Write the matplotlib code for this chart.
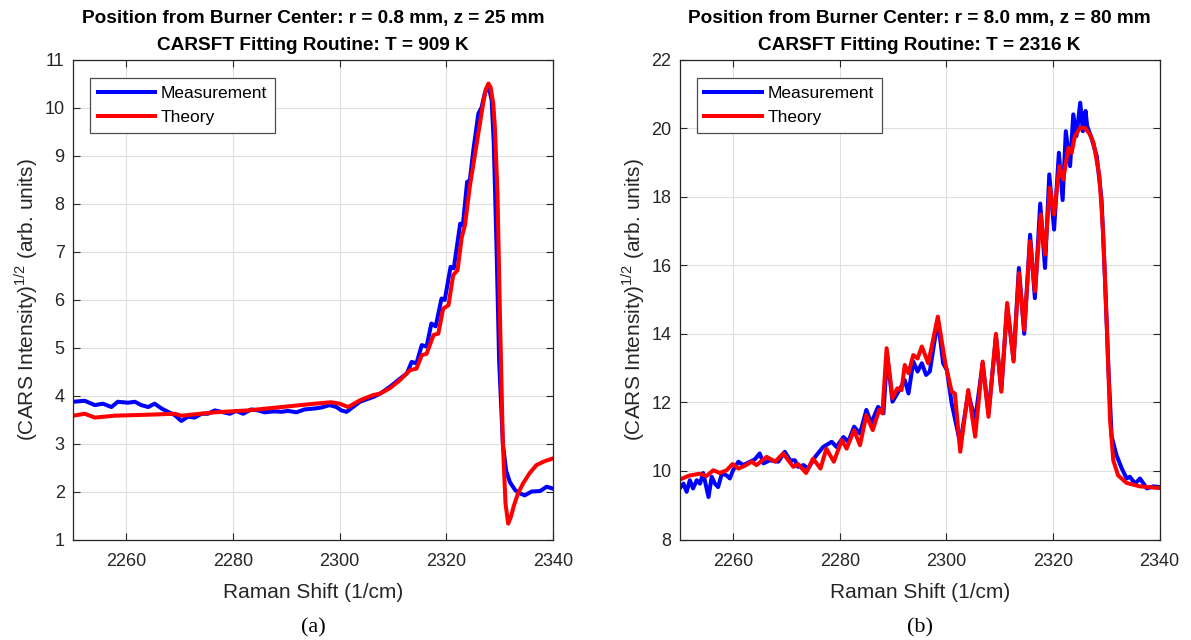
import matplotlib
matplotlib.use("Agg")
import matplotlib.pyplot as plt

plt.rcParams['font.family'] = ['Liberation Sans', 'DejaVu Sans']
plt.rcParams['mathtext.fontset'] = 'custom'
plt.rcParams['mathtext.rm'] = 'Liberation Sans'

# ---- panel (a): r = 0.8 mm, z = 25 mm ----
a_meas_x = [2250, 2252.2, 2254.1, 2255.6, 2257.2, 2258.4, 2260.3, 2261.6, 2262.8, 2264.1,
            2265.3, 2266.6, 2267.8, 2269.1, 2270.3, 2271.6, 2272.8, 2274.1, 2275.3, 2276.6,
            2277.8, 2279.4, 2280.6, 2281.9, 2283.4, 2284.7, 2285.9, 2287.8, 2289.1, 2290.3,
            2291.9, 2293.4, 2295.3, 2296.6, 2298.1, 2299.4, 2300.3, 2301.3, 2303.8, 2306.3,
            2307.6, 2309.4, 2311.3, 2312.6, 2313.5, 2314.4, 2315.4, 2316.3, 2317.2, 2318.0,
            2319.1, 2319.7, 2320.8, 2321.4, 2322.6, 2323.1, 2323.9, 2324.4, 2325.1, 2326.0,
            2326.6, 2327.2, 2327.9, 2328.5, 2328.9, 2329.4, 2329.9, 2330.6, 2331.2, 2331.9,
            2332.9, 2333.8, 2334.7, 2336.0, 2337.6, 2338.8, 2340]
a_meas_y = [3.87, 3.89, 3.80, 3.83, 3.76, 3.87, 3.85, 3.87, 3.80, 3.76,
            3.83, 3.73, 3.66, 3.59, 3.47, 3.56, 3.54, 3.62, 3.62, 3.69,
            3.66, 3.62, 3.68, 3.62, 3.71, 3.69, 3.65, 3.67, 3.66, 3.68,
            3.65, 3.71, 3.73, 3.75, 3.80, 3.76, 3.69, 3.66, 3.87, 3.97,
            4.04, 4.18, 4.35, 4.46, 4.70, 4.67, 5.05, 5.02, 5.50, 5.44,
            6.02, 5.99, 6.68, 6.65, 7.58, 7.55, 8.45, 8.48, 9.14, 9.87,
            10.0, 10.29, 10.46, 10.15, 9.25, 7.17, 4.74, 3.00, 2.44, 2.20,
            2.03, 1.96, 1.92, 2.00, 2.01, 2.10, 2.06]

a_theo_x = [2250, 2252.2, 2254.1, 2257.8, 2264.1, 2269.1, 2270.3, 2276.6, 2282.8, 2289.1,
            2295.3, 2298.4, 2300.0, 2301.6, 2303.8, 2306.3, 2307.6, 2309.4, 2311.3, 2313.2,
            2314.4, 2315.4, 2316.3, 2317.6, 2318.5, 2319.4, 2320.4, 2321.3, 2322.1, 2322.9,
            2323.5, 2324.4, 2325.7, 2326.9, 2327.4, 2327.9, 2328.3, 2328.8, 2329.1, 2329.6,
            2330.1, 2330.6, 2331.1, 2331.6, 2332.1, 2332.6, 2333.4, 2334.4, 2335.6, 2336.9,
            2338.4, 2340]
a_theo_y = [3.58, 3.62, 3.54, 3.58, 3.60, 3.62, 3.58, 3.65, 3.69, 3.76,
            3.83, 3.86, 3.83, 3.76, 3.90, 4.01, 4.04, 4.15, 4.32, 4.53,
            4.56, 4.84, 4.87, 5.26, 5.29, 5.81, 5.88, 6.51, 6.61, 7.30,
            7.55, 8.35, 9.25, 10.08, 10.38, 10.50, 10.42, 10.08, 9.60, 8.20,
            5.43, 3.00, 1.75, 1.33, 1.47, 1.68, 1.95, 2.17, 2.38, 2.55,
            2.63, 2.69]

# ---- panel (b): r = 8.0 mm, z = 80 mm ----
b_meas_x = [2250, 2250.7, 2251.3, 2251.9, 2252.5, 2253.2, 2253.8, 2254.4, 2255.4, 2256.0,
            2256.6, 2257.2, 2257.9, 2258.8, 2259.4, 2260.0, 2261.0, 2261.9, 2263.2, 2264.1,
            2265.0, 2265.7, 2266.9, 2268.5, 2269.7, 2270.7, 2271.6, 2272.2, 2273.2, 2274.1,
            2275.4, 2276.9, 2278.5, 2279.4, 2280.7, 2281.6, 2282.7, 2283.8, 2285.0, 2285.9,
            2287.2, 2288.2, 2288.9, 2289.9, 2291.0, 2292.2, 2292.9, 2293.8, 2294.6, 2295.4,
            2296.2, 2296.9, 2298.4, 2299.4, 2300.1, 2301.0, 2302.6, 2304.1, 2305.4, 2306.8,
            2307.9, 2309.3, 2310.3, 2311.4, 2312.6, 2313.6, 2314.6, 2315.7, 2316.6, 2317.6,
            2318.5, 2319.3, 2320.2, 2321.1, 2321.8, 2322.4, 2323.2, 2323.8, 2324.4, 2325.1,
            2325.6, 2326.1, 2326.4, 2327.2, 2328.2, 2329.1, 2329.7, 2330.4, 2331.0, 2331.9,
            2332.9, 2333.8, 2334.4, 2335.4, 2336.3, 2337.6, 2338.8, 2340]
b_meas_y = [9.49, 9.63, 9.39, 9.73, 9.49, 9.73, 9.63, 9.94, 9.24, 9.83,
            9.63, 9.53, 9.92, 9.87, 9.78, 10.02, 10.27, 10.17, 10.27, 10.34,
            10.51, 10.22, 10.31, 10.27, 10.56, 10.31, 10.31, 10.12, 10.17, 10.07,
            10.41, 10.70, 10.85, 10.70, 10.99, 10.85, 11.29, 11.09, 11.78, 11.39,
            11.87, 11.68, 13.38, 12.02, 12.31, 12.65, 12.26, 13.19, 12.90, 13.14,
            12.80, 12.90, 14.41, 13.14, 12.94, 11.97, 10.80, 12.26, 11.48, 13.14,
            11.68, 13.92, 12.36, 14.80, 13.24, 15.92, 14.00, 16.89, 15.04, 17.80,
            15.92, 18.65, 17.04, 19.28, 17.90, 19.91, 18.89, 20.40, 19.77, 20.74,
            19.91, 20.50, 20.06, 19.72, 19.18, 17.92, 15.77, 12.94, 11.00, 10.46,
            10.07, 9.78, 9.83, 9.63, 9.78, 9.49, 9.55, 9.53]

b_theo_x = [2250, 2251.9, 2253.8, 2255.0, 2256.3, 2257.5, 2258.8, 2259.9, 2261.0, 2262.2,
            2263.5, 2264.4, 2266.3, 2267.9, 2269.4, 2271.3, 2272.2, 2273.7, 2275.0, 2276.4,
            2277.5, 2278.9, 2280.4, 2281.3, 2282.7, 2283.8, 2285.0, 2286.2, 2287.4, 2288.0,
            2288.8, 2289.9, 2290.8, 2291.6, 2292.2, 2292.9, 2293.8, 2294.6, 2295.4, 2296.6,
            2298.4, 2299.8, 2301.0, 2301.6, 2302.6, 2304.1, 2305.4, 2306.8, 2307.9, 2309.3,
            2310.3, 2311.4, 2312.6, 2313.6, 2314.6, 2315.7, 2316.6, 2317.7, 2318.5, 2319.4,
            2320.2, 2321.2, 2321.9, 2322.9, 2323.5, 2324.1, 2325.1, 2326.0, 2326.9, 2327.6,
            2328.7, 2329.4, 2330.1, 2330.7, 2331.3, 2332.2, 2333.8, 2336.3, 2340]
b_theo_y = [9.75, 9.87, 9.92, 9.85, 10.02, 9.94, 10.02, 10.20, 10.07, 10.15,
            10.27, 10.17, 10.41, 10.27, 10.51, 10.12, 10.20, 9.94, 10.36, 10.07,
            10.65, 10.27, 10.90, 10.65, 11.19, 10.75, 11.63, 11.19, 11.78, 11.68,
            13.58, 12.12, 12.41, 12.36, 13.09, 12.85, 13.38, 13.28, 13.63, 13.14,
            14.50, 13.14, 12.31, 12.26, 10.56, 12.36, 11.00, 13.19, 11.58, 14.00,
            12.31, 14.90, 13.19, 15.77, 14.11, 16.70, 15.24, 17.48, 16.31, 18.26,
            17.48, 18.89, 18.50, 19.43, 19.28, 19.77, 20.01, 20.01, 19.82, 19.57,
            18.60, 16.94, 14.20, 11.48, 10.31, 9.87, 9.65, 9.55, 9.50]

titles = ["Position from Burner Center: r = 0.8 mm, z = 25 mm\nCARSFT Fitting Routine: T = 909 K",
          "Position from Burner Center: r = 8.0 mm, z = 80 mm\nCARSFT Fitting Routine: T = 2316 K"]
panel_labels = ["(a)", "(b)"]
ylims = [(1, 11), (8, 22)]
yticks = [range(1, 12), range(8, 23, 2)]
xticks = [2260, 2280, 2300, 2320, 2340]

fig = plt.figure(figsize=(11.91, 6.4), dpi=100)
ax_a = fig.add_axes([0.0613, 0.157, 0.403, 0.75])
ax_b = fig.add_axes([0.5707, 0.157, 0.403, 0.75])

dark = '#262626'
data = [(a_meas_x, a_meas_y, a_theo_x, a_theo_y), (b_meas_x, b_meas_y, b_theo_x, b_theo_y)]
for i, ax in enumerate([ax_a, ax_b]):
    mx, my, tx, ty = data[i]
    ax.plot(mx, my, color=(0, 0, 1), lw=2.9, label='Measurement', solid_joinstyle='round')
    ax.plot(tx, ty, color=(1, 0, 0), lw=2.9, label='Theory', solid_joinstyle='round')
    ax.set_xlim(2250, 2340)
    ax.set_ylim(*ylims[i])
    ax.set_xticks(xticks)
    ax.set_yticks(list(yticks[i]))
    ax.grid(True, color='#dfdfdf', lw=0.8)
    ax.set_axisbelow(True)
    ax.tick_params(direction='in', top=True, right=True, labelsize=13, colors=dark, length=5)
    ax.tick_params(axis='x', pad=10)
    ax.tick_params(axis='y', pad=6)
    for s in ax.spines.values():
        s.set_color(dark)
        s.set_linewidth(0.9)
    ax.set_title(titles[i], fontsize=13.7, fontweight='bold', color='black', pad=7, linespacing=1.75)
    ax.set_xlabel('Raman Shift (1/cm)', fontsize=15, color=dark, labelpad=9)
    ax.set_ylabel(r'(CARS Intensity)$^{1/2}$ (arb. units)', fontsize=15, color=dark, labelpad=3)
    leg = ax.legend(loc='upper left', bbox_to_anchor=(0.035, 0.962), fontsize=12.5, fancybox=False,
                    framealpha=1, edgecolor='#4d4d4d', handlelength=3.3, handletextpad=0.35,
                    borderpad=0.45, labelspacing=0.55, borderaxespad=0)
    leg.get_frame().set_linewidth(0.9)
    ax.text(0.5, -0.165, panel_labels[i], transform=ax.transAxes, ha='center', va='top',
            fontsize=16, family='Liberation Serif')

fig.savefig('out.png', dpi=100)
